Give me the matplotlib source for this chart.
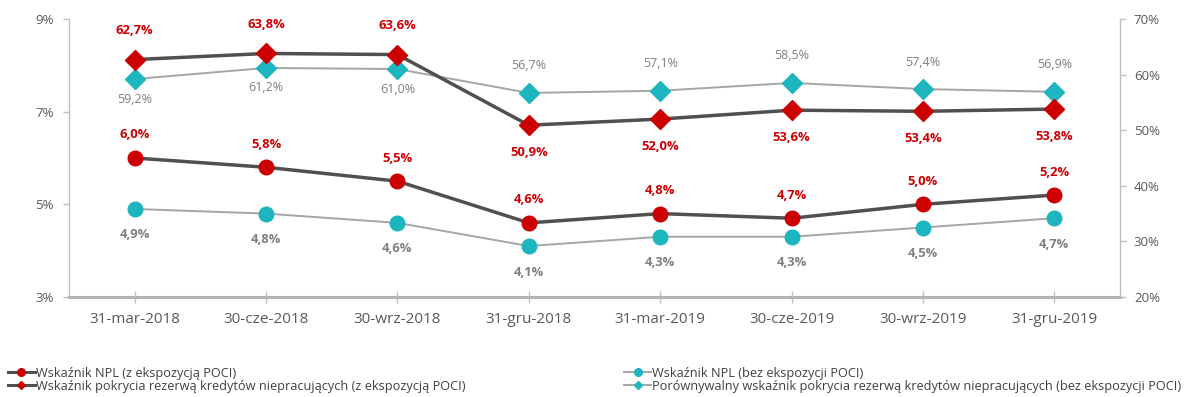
import matplotlib
matplotlib.use("Agg")
import matplotlib.pyplot as plt
from matplotlib.lines import Line2D

plt.rcParams['font.family'] = ['Open Sans', 'DejaVu Sans']

categories = ["31-mar-2018", "30-cze-2018", "30-wrz-2018", "31-gru-2018",
              "31-mar-2019", "30-cze-2019", "30-wrz-2019", "31-gru-2019"]

npl_with_poci = [6.0, 5.8, 5.5, 4.6, 4.8, 4.7, 5.0, 5.2]
npl_without_poci = [4.9, 4.8, 4.6, 4.1, 4.3, 4.3, 4.5, 4.7]
coverage_with_poci = [62.7, 63.8, 63.6, 50.9, 52.0, 53.6, 53.4, 53.8]
coverage_without_poci = [59.2, 61.2, 61.0, 56.7, 57.1, 58.5, 57.4, 56.9]

left_ticks = [3, 5, 7, 9]
right_ticks = [20, 30, 40, 50, 60, 70]

legend_labels = [
    "Wskaźnik NPL (z ekspozycją POCI)",
    "Wskaźnik pokrycia rezerwą kredytów niepracujących (z ekspozycją POCI)",
    "Wskaźnik NPL (bez ekspozycji POCI)",
    "Porównywalny wskaźnik pokrycia rezerwą kredytów niepracujących (bez ekspozycji POCI)",
]

RED = "#CC0000"
TEAL = "#1DB5BE"
DARK = "#505050"
LIGHT = "#A6A6A6"
LABEL_GRAY = "#7F7F7F"
TICK_GRAY = "#595959"
AXIS_GRAY = "#BFBFBF"

W, H = 1185, 397
fig = plt.figure(figsize=(W / 100, H / 100), dpi=100)
ax = fig.add_axes([69 / W, 1 - 297 / H, (1120 - 69) / W, (297 - 19) / H])
ax2 = ax.twinx()

x = list(range(len(categories)))


def fmt(v):
    return f"{v:.1f}".replace(".", ",") + "%"


# NPL ratios on the left axis
ax.plot(x, npl_without_poci, color=LIGHT, lw=1.4, marker="o", ms=10.5,
        mfc=TEAL, mec=TEAL, zorder=3)
ax.plot(x, npl_with_poci, color=DARK, lw=2.5, marker="o", ms=10.5,
        mfc=RED, mec=RED, zorder=4)

# Coverage ratios on the right axis
ax2.plot(x, coverage_without_poci, color=LIGHT, lw=1.4, marker="D", ms=10,
         mfc=TEAL, mec=TEAL, zorder=3)
ax2.plot(x, coverage_with_poci, color=DARK, lw=2.5, marker="D", ms=10,
         mfc=RED, mec=RED, zorder=4)

BOLD_SIZE = 9.4
REG_SIZE = 9.0

for i, v in enumerate(npl_with_poci):
    ax.annotate(fmt(v), (i, v), xytext=(0, 23), textcoords="offset pixels",
                ha="center", va="center", color=RED, fontsize=BOLD_SIZE,
                fontweight="bold")
for i, v in enumerate(npl_without_poci):
    ax.annotate(fmt(v), (i, v), xytext=(0, -26), textcoords="offset pixels",
                ha="center", va="center", color=LABEL_GRAY, fontsize=BOLD_SIZE,
                fontweight="bold")
for i, v in enumerate(coverage_with_poci):
    dy = 29 if i < 3 else -27
    ax2.annotate(fmt(v), (i, v), xytext=(0, dy), textcoords="offset pixels",
                 ha="center", va="center", color=RED, fontsize=BOLD_SIZE,
                 fontweight="bold")
for i, v in enumerate(coverage_without_poci):
    dy = -20 if i < 3 else 27
    ax2.annotate(fmt(v), (i, v), xytext=(0, dy), textcoords="offset pixels",
                 ha="center", va="center", color=LABEL_GRAY, fontsize=REG_SIZE)

ax.set_xlim(-0.5, len(categories) - 0.5)
ax.set_ylim(3, 9)
ax2.set_ylim(20, 70)
ax.set_yticks(left_ticks)
ax.set_yticklabels([f"{t}%" for t in left_ticks])
ax2.set_yticks(right_ticks)
ax2.set_yticklabels([f"{t}%" for t in right_ticks])
ax.set_xticks(x)
ax.set_xticklabels(categories)

for a in (ax, ax2):
    for s in a.spines.values():
        s.set_visible(False)

ax.spines["left"].set_visible(True)
ax.spines["left"].set_color(AXIS_GRAY)
ax.spines["left"].set_linewidth(1.0)
ax.spines["bottom"].set_visible(True)
ax.spines["bottom"].set_color("#B3B3B3")
ax.spines["bottom"].set_linewidth(2.2)
ax2.spines["right"].set_visible(True)
ax2.spines["right"].set_color(AXIS_GRAY)
ax2.spines["right"].set_linewidth(1.0)

ax.tick_params(axis="y", direction="out", length=4, width=1, color=AXIS_GRAY,
               labelcolor=TICK_GRAY, labelsize=9.5, pad=7)
ax2.tick_params(axis="y", direction="out", length=4, width=1, color=AXIS_GRAY,
                labelcolor=TICK_GRAY, labelsize=9.5, pad=6)
ax.tick_params(axis="x", direction="inout", length=8, width=1, color=AXIS_GRAY,
               labelcolor=TICK_GRAY, labelsize=11, pad=7)

# Key along the bottom: two columns of two entries, laid out in figure pixels
key_entries = [
    (8, 372, DARK, 2.2, "o", 5.5, RED, legend_labels[0]),
    (8, 385, DARK, 2.2, "D", 4.0, RED, legend_labels[1]),
    (624, 372, LIGHT, 1.4, "o", 5.5, TEAL, legend_labels[2]),
    (624, 385, LIGHT, 1.4, "D", 4.0, TEAL, legend_labels[3]),
]
for x0, y0, lc, lw, mk, msz, mc, text in key_entries:
    yf = 1 - y0 / H
    fig.add_artist(Line2D([x0 / W, (x0 + 27) / W], [yf, yf], color=lc, lw=lw,
                          transform=fig.transFigure))
    fig.add_artist(Line2D([(x0 + 13.5) / W], [yf], marker=mk, ms=msz, mfc=mc,
                          mec=mc, ls="none", transform=fig.transFigure))
    fig.text((x0 + 28) / W, yf, text, ha="left", va="center_baseline",
             fontsize=9.2, color="#404040")

fig.savefig("out.png", dpi=100)
